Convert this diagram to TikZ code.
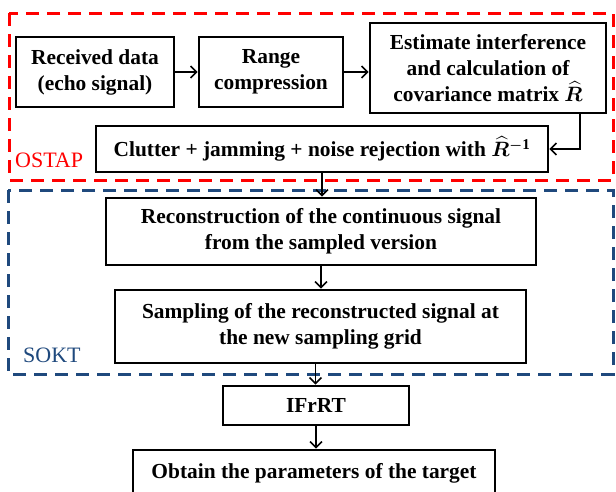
\documentclass[tikz,border=0pt]{standalone}
\usepackage{fontspec}
\setmainfont{Liberation Serif}
\usepackage{amsmath,bm}
\usetikzlibrary{arrows.meta}

\definecolor{ostapred}{RGB}{255,0,0}
\definecolor{soktblue}{RGB}{31,73,125}

\begin{document}
\begin{tikzpicture}[x=1pt,y=-1pt,
  box/.style={draw,line width=2.8pt,align=center,inner sep=0pt,
    font=\fontsize{21.4}{26}\selectfont\bfseries},
  arr/.style={line width=1.5pt,-{Straight Barb[length=6pt,width=12pt]}},
  zone/.style={line width=3pt,dash pattern=on 13pt off 8pt},
  zonelabel/.style={anchor=base west,inner sep=0pt,font=\fontsize{22}{26}\selectfont}]

\path[use as bounding box,clip] (0,0) rectangle (616,491);

% OSTAP stage
\draw[zone,ostapred] (9,13) rectangle (613,180);
\node[zonelabel,text=ostapred] (ostap) at (15,167) {OSTAP};

\node[box,minimum width=158,minimum height=70] (recv) at (95,72)
  {Received data\\(echo signal)};
\node[box,minimum width=144,minimum height=70] (range) at (271,72)
  {Range\\compression};
\node[box,minimum width=236,minimum height=90] (est) at (488,68)
  {Estimate interference\\and calculation of\\covariance matrix $\widehat{\bm{R}}$};
\node[box,minimum width=452,minimum height=46] (clut) at (322,149)
  {Clutter + jamming + noise rejection with $\widehat{\bm{R}}^{\bm{-}\mathbf{1}}$};

% SOKT stage
\draw[zone,soktblue] (8,190) rectangle (613,374);
\node[zonelabel,text=soktblue] (sokt) at (23,362) {SOKT};

\node[box,minimum width=430,minimum height=67] (recon) at (321,231.5)
  {Reconstruction of the continuous signal\\from the sampled version};
\node[box,minimum width=411,minimum height=73] (samp) at (320.5,326.5)
  {Sampling of the reconstructed signal at\\the new sampling grid};

\node[box,minimum width=186,minimum height=39] (ifrrt) at (316,405.5) {IFrRT};
\node[box,minimum width=362,minimum height=46] (obtain) at (314,473)
  {Obtain the parameters of the target};

\draw[arr] (recv.east) -- (recv.east -| range.west);
\draw[arr] (range.east) -- (range.east -| est.west);
\draw[arr] ([xshift=92pt]est.south) |- (clut.east);
\draw[arr] (clut.south) -- (clut.south |- recon.north);
\draw[arr] (recon.south) -- (recon.south |- samp.north);
\draw[arr] ([xshift=-5pt]samp.south) -- ([xshift=-5pt]samp.south |- ifrrt.north);
\draw[arr] (ifrrt.south) -- (ifrrt.south |- obtain.north);

\end{tikzpicture}
\end{document}
